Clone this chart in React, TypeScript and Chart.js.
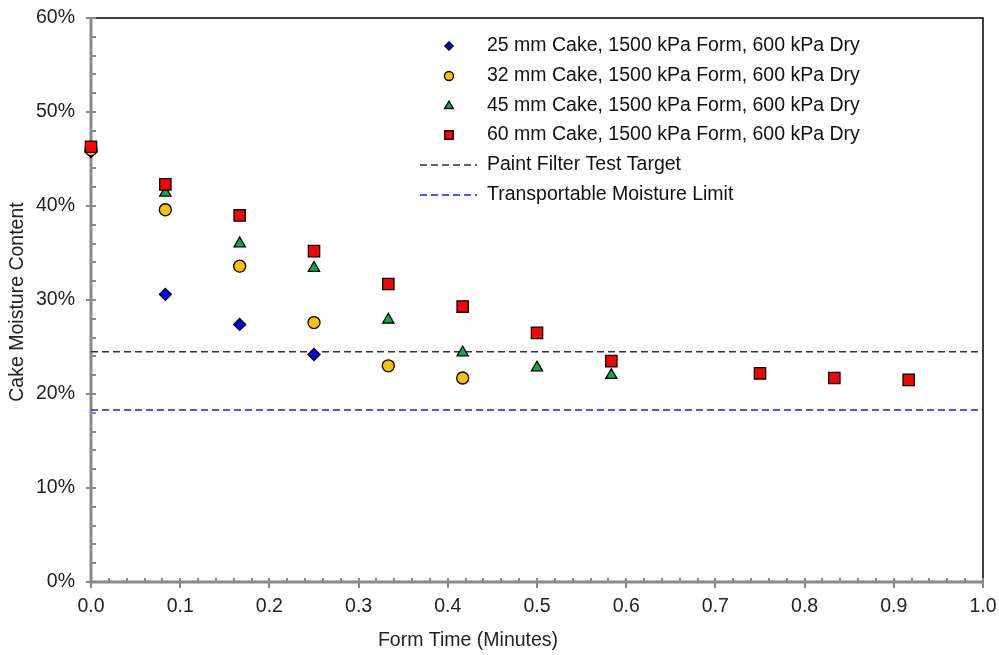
import React, { useEffect, useRef } from "react";
import { Chart, registerables } from "chart.js";

Chart.register(...registerables);

const formTime = [0, 1 / 12, 2 / 12, 3 / 12, 4 / 12, 5 / 12, 6 / 12, 7 / 12, 9 / 12, 10 / 12, 11 / 12];

const cake25 = [45.8, 30.6, 27.4, 24.2];
const cake32 = [46.0, 39.6, 33.6, 27.6, 23.0, 21.7];
const cake45 = [46.1, 41.4, 36.0, 33.4, 27.9, 24.4, 22.8, 22.0];
const cake60 = [46.3, 42.3, 39.0, 35.2, 31.7, 29.3, 26.5, 23.5, 22.2, 21.7, 21.5];

const paintFilterTarget = 24.5;
const transportableLimit = 18.3;

const seriesLabels = [
  "25 mm Cake, 1500 kPa Form, 600 kPa Dry",
  "32 mm Cake, 1500 kPa Form, 600 kPa Dry",
  "45 mm Cake, 1500 kPa Form, 600 kPa Dry",
  "60 mm Cake, 1500 kPa Form, 600 kPa Dry",
];
const lineLabels = ["Paint Filter Test Target", "Transportable Moisture Limit"];
const xTitle = "Form Time (Minutes)";
const yTitle = "Cake Moisture Content";

const yTicks = [0, 10, 20, 30, 40, 50, 60];
const xTicks = [0, 0.1, 0.2, 0.3, 0.4, 0.5, 0.6, 0.7, 0.8, 0.9, 1.0];

const FONT = "'Liberation Sans', Arial, sans-serif";
const FS = 19.5;
const colors = ["#0000f0", "#FFC000", "#00B050", "#FF0000"];
const styles = ["rectRot", "circle", "triangle", "rect"];
const radii = [6, 6, 6.5, 8];
const lineColors = ["#333333", "#1a1aff"];

const toPts = (vals: number[]) => vals.map((v, i) => ({ x: formTime[i], y: v }));

const zeroPad = (s: any) => {
  s.paddingTop = 0;
  s.paddingBottom = 0;
  s.paddingLeft = 0;
  s.paddingRight = 0;
};

const axesPlugin = {
  id: "customAxes",
  beforeDatasetsDraw(chart: any) {
    const { ctx, chartArea } = chart;
    const { left, right, top, bottom } = chartArea;
    const xs = chart.scales.x;
    const ys = chart.scales.y;
    ctx.save();
    ctx.strokeStyle = "#000";
    ctx.lineWidth = 1.5;
    ctx.beginPath();
    ctx.moveTo(left, top);
    ctx.lineTo(right, top);
    ctx.lineTo(right, bottom);
    ctx.stroke();
    ctx.strokeStyle = "#8a8a8a";
    ctx.lineWidth = 3;
    ctx.beginPath();
    ctx.moveTo(left, top);
    ctx.lineTo(left, bottom);
    ctx.lineTo(right, bottom);
    ctx.stroke();
    ctx.lineWidth = 2;
    ctx.beginPath();
    for (let v = 0; v <= 60.001; v += 2) {
      const py = Math.round(ys.getPixelForValue(v));
      const major = Math.abs(v % 10) < 0.01;
      ctx.moveTo(major ? left - 5 : left, py);
      ctx.lineTo(left + 5, py);
    }
    for (let i = 0; i <= 50; i++) {
      const v = i * 0.02;
      const px = Math.round(xs.getPixelForValue(v));
      const major = i % 5 === 0;
      ctx.moveTo(px, bottom - 4);
      ctx.lineTo(px, major ? bottom + 6 : bottom);
    }
    ctx.stroke();

    // axis titles
    ctx.fillStyle = "#222";
    ctx.font = `${FS}px ${FONT}`;
    ctx.textAlign = "center";
    ctx.textBaseline = "middle";
    ctx.fillText(xTitle, 468, 641);
    ctx.translate(18, 302);
    ctx.rotate(-Math.PI / 2);
    ctx.fillText(yTitle, 0, 0);
    ctx.restore();
  },
};

function drawMarker(ctx: CanvasRenderingContext2D, style: string, x: number, y: number, r: number) {
  ctx.beginPath();
  if (style === "circle") {
    ctx.arc(x, y, r, 0, Math.PI * 2);
  } else if (style === "rectRot") {
    ctx.moveTo(x, y - r);
    ctx.lineTo(x + r, y);
    ctx.lineTo(x, y + r);
    ctx.lineTo(x - r, y);
    ctx.closePath();
  } else if (style === "triangle") {
    const h = r * 1.5;
    const s = r * 0.866;
    ctx.moveTo(x, y - r);
    ctx.lineTo(x + s, y + h - r);
    ctx.lineTo(x - s, y + h - r);
    ctx.closePath();
  } else {
    const s = r * Math.SQRT1_2;
    ctx.rect(x - s, y - s, 2 * s, 2 * s);
  }
  ctx.fill();
  ctx.stroke();
}

const legendPlugin = {
  id: "customLegend",
  afterDraw(chart: any) {
    const { ctx } = chart;
    ctx.save();
    ctx.font = `${FS}px ${FONT}`;
    ctx.textBaseline = "middle";
    ctx.textAlign = "left";
    const rowY = [46, 76, 106, 135, 165, 195];
    const textX = 487;
    for (let i = 0; i < 4; i++) {
      ctx.fillStyle = colors[i];
      ctx.strokeStyle = "#000";
      ctx.lineWidth = 1.3;
      drawMarker(ctx, styles[i], 449, rowY[i], [4.2, 4.5, 5, 6][i]);
      ctx.fillStyle = "#111";
      ctx.fillText(seriesLabels[i], textX, rowY[i]);
    }
    for (let j = 0; j < 2; j++) {
      const y = rowY[4 + j];
      ctx.strokeStyle = lineColors[j];
      ctx.lineWidth = 1.5;
      ctx.setLineDash([7, 4]);
      ctx.beginPath();
      ctx.moveTo(420, y);
      ctx.lineTo(477, y);
      ctx.stroke();
      ctx.setLineDash([]);
      ctx.fillStyle = "#111";
      ctx.fillText(lineLabels[j], textX, y);
    }
    ctx.restore();
  },
};

export default function App() {
  const ref = useRef<HTMLCanvasElement | null>(null);
  useEffect(() => {
    document.body.style.margin = "0";
    if (!ref.current) return;
    const seriesData = [cake25, cake32, cake45, cake60];
    const scatterSets = seriesData.map((vals, i) => ({
      type: "scatter" as const,
      label: seriesLabels[i],
      data: toPts(vals),
      pointStyle: styles[i],
      pointRadius: radii[i],
      pointBackgroundColor: colors[i],
      pointBorderColor: "#000",
      pointBorderWidth: 1.3,
      showLine: false,
      clip: false as any,
      order: 10 - i,
    }));
    const lineSets = [paintFilterTarget, transportableLimit].map((v, j) => ({
      type: "line" as const,
      label: lineLabels[j],
      data: [
        { x: 0, y: v },
        { x: 1, y: v },
      ],
      borderColor: lineColors[j],
      borderWidth: 1.5,
      borderDash: [7, 4],
      pointRadius: 0,
      fill: false,
      order: 20 + j,
    }));
    const chart = new Chart(ref.current, {
      type: "scatter",
      data: { datasets: [...scatterSets, ...lineSets] as any },
      plugins: [axesPlugin, legendPlugin],
      options: {
        animation: false,
        responsive: false,
        layout: { padding: { top: 18, right: 16, left: 0, bottom: 0 } },
        plugins: { legend: { display: false }, tooltip: { enabled: false } },
        scales: {
          x: {
            type: "linear",
            min: 0,
            max: 1,
            afterFit: (s: any) => {
              s.height = 73;
              zeroPad(s);
            },
            afterBuildTicks: (s: any) => {
              s.ticks = xTicks.map((v) => ({ value: v }));
            },
            grid: { display: false, drawTicks: false },
            border: { display: false },
            ticks: {
              padding: 13,
              color: "#222",
              font: { family: FONT, size: FS },
              callback: (v: any) => Number(v).toFixed(1),
              maxRotation: 0,
            },
          },
          y: {
            type: "linear",
            min: 0,
            max: 60,
            afterFit: (s: any) => {
              s.width = 91;
              zeroPad(s);
            },
            afterBuildTicks: (s: any) => {
              s.ticks = yTicks.map((v) => ({ value: v }));
            },
            grid: { display: false, drawTicks: false },
            border: { display: false },
            ticks: {
              padding: 16,
              color: "#222",
              font: { family: FONT, size: FS },
              callback: (v: any) => `${Math.round(Number(v))}%`,
            },
          },
        },
      },
    });
    return () => chart.destroy();
  }, []);
  return (
    <div style={{ width: 999, height: 655, background: "#fff" }}>
      <canvas ref={ref} width={999} height={655} style={{ display: "block" }} />
    </div>
  );
}
